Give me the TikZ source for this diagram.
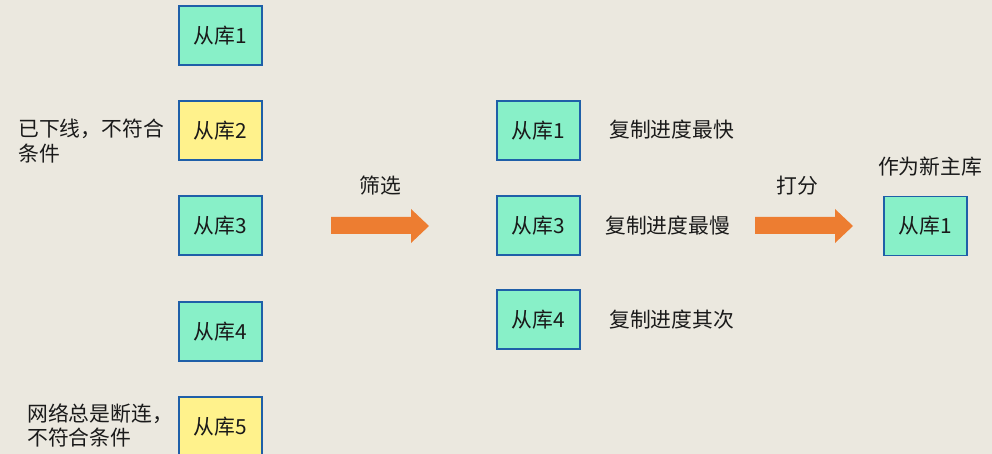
\documentclass[tikz,border=0pt]{standalone}
\usepackage{fontspec}
\setmainfont{Noto Sans CJK SC}
\definecolor{bg}{HTML}{EBE8DF}
\definecolor{gfill}{HTML}{88F0C8}
\definecolor{yfill}{HTML}{FFF28C}
\definecolor{bord}{HTML}{1F5FA8}
\definecolor{orng}{HTML}{ED7D31}
\definecolor{txt}{HTML}{1A1A1A}
\begin{document}
\begin{tikzpicture}[x=1pt,y=-1pt,
  every node/.style={font=\fontsize{20.8}{24.5}\selectfont, text=txt},
  dbox/.style={draw=bord, line width=1.1pt, minimum width=83pt, minimum height=59pt, inner sep=0pt},
  gbox/.style={dbox, fill=gfill},
  ybox/.style={dbox, fill=yfill},
  lbl/.style={inner sep=0pt},
  bigarrow/.style={fill=orng}]
\fill[bg] (0,0) rectangle (992,454);
\useasboundingbox (0,0) rectangle (992,454);
% left column
\node[gbox] (a1) at (220.5,35.5) {从库1};
\node[ybox] (a2) at (220.5,130.5) {从库2};
\node[gbox] (a3) at (220.5,225.5) {从库3};
\node[gbox] (a4) at (220.5,331.5) {从库4};
\node[ybox] (a5) at (220.5,426.5) {从库5};
\node[lbl, anchor=west, align=left] (t2) at (18,141) {已下线，不符合\\条件};
\node[lbl, anchor=west, align=left] (t5) at (27,425.5) {网络总是断连，\\不符合条件};
% middle column
\node[gbox] (b1) at (538.5,130.5) {从库1};
\node[gbox] (b3) at (538.5,225.5) {从库3};
\node[gbox] (b4) at (538.5,319.5) {从库4};
\node[lbl, anchor=west] (d1) at (609,129.5) {复制进度最快};
\node[lbl, anchor=west] (d3) at (605,225.5) {复制进度最慢};
\node[lbl, anchor=west] (d4) at (609,319.5) {复制进度其次};
% right
\node[gbox] (c1) at (925.5,226) {从库1};
\node[lbl] (newm) at (930,167) {作为新主库};
% arrows
\fill[bigarrow] (331,217) -- (411,217) -- (411,209) -- (429,226) -- (411,243) -- (411,234) -- (331,234) -- cycle;
\node[lbl] (f) at (380,186) {筛选};
\fill[bigarrow] (755,217) -- (835,217) -- (835,209) -- (853,226) -- (835,243) -- (835,234) -- (755,234) -- cycle;
\node[lbl] (s) at (797,186) {打分};
\end{tikzpicture}
\end{document}
